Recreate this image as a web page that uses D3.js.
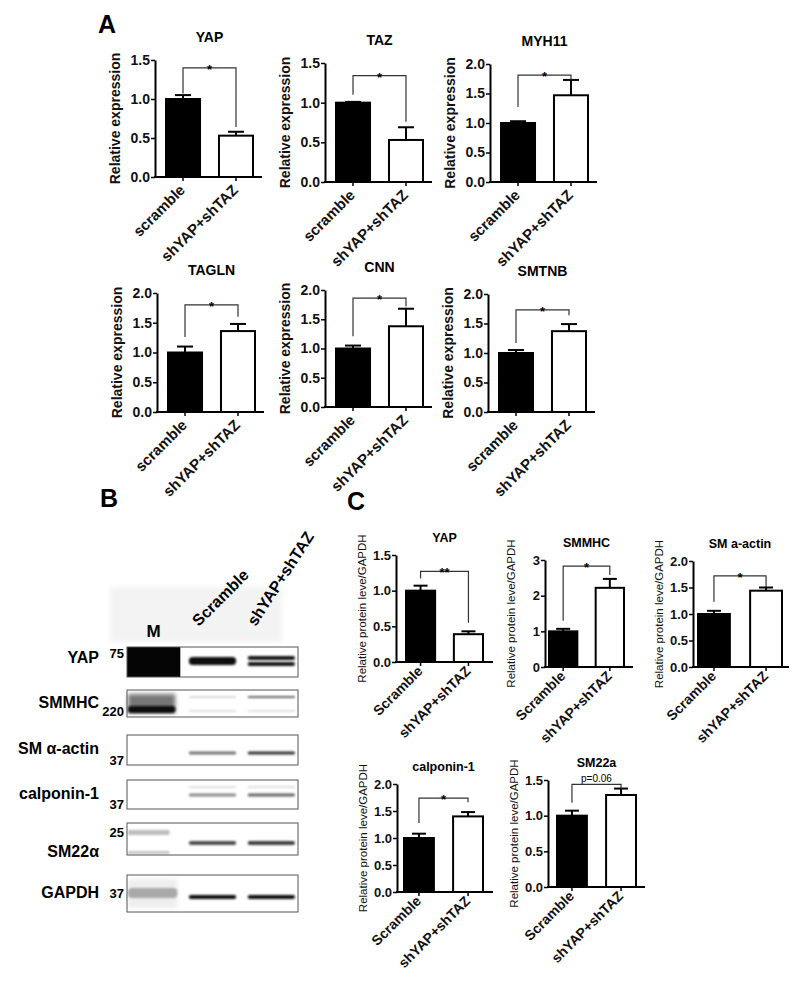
<!DOCTYPE html>
<html>
<head>
<meta charset="utf-8">
<script src="https://cdn.jsdelivr.net/npm/d3@7"></script>
<style>
body { margin: 0; background: #fff; }
svg { display: block; }
</style>
</head>
<body>
<script>
// ---- A : qPCR, relative expression ----
var groupsA = ["scramble", "shYAP+shTAZ"];
var genesA = ["YAP", "TAZ", "MYH11", "TAGLN", "CNN", "SMTNB"];
var scrMeanA = [1.00, 1.00, 1.00, 1.00, 1.00, 1.00];
var scrErrA = [0.05, 0.01, 0.03, 0.10, 0.05, 0.05];
var shMeanA = [0.53, 0.53, 1.47, 1.36, 1.38, 1.37];
var shErrA = [0.05, 0.16, 0.26, 0.12, 0.30, 0.12];
var yMaxA = [1.5, 1.5, 2.0, 2.0, 2.0, 2.0];
var sigA = ["*", "*", "*", "*", "*", "*"];
var brTopA = [1.40, 1.34, 1.81, 1.80, 1.86, 1.73];
var brLeftA = [1.07, 1.10, 1.27, 1.26, 1.21, 1.17];
var brRightA = [0.64, 0.76, 1.73, 1.60, 1.72, 1.64];

// ---- C : protein level / GAPDH ----
var groupsC = ["Scramble", "shYAP+shTAZ"];
var proteinsC = ["YAP", "SMMHC", "SM a-actin", "calponin-1", "SM22a"];
var scrMeanC = [1.00, 1.00, 1.00, 1.00, 1.00];
var scrErrC = [0.07, 0.07, 0.06, 0.08, 0.07];
var shMeanC = [0.39, 2.22, 1.44, 1.40, 1.29];
var shErrC = [0.04, 0.25, 0.06, 0.08, 0.09];
var yMaxC = [1.5, 3, 2.0, 2.0, 1.5];
var yStepC = [0.5, 1, 0.5, 0.5, 0.5];
var sigC = ["**", "*", "*", "*", "p=0.06"];
var brTopC = [1.27, 2.83, 1.72, 1.74, 1.44];
var brLeftC = [1.17, 1.30, 1.23, 1.28, 1.18];
var brRightC = [0.55, 2.58, 1.51, 1.66, 1.38];

// ---- B : western blot ----
var blotRows = ["YAP", "SMMHC", "SM \u03b1-actin", "calponin-1", "SM22\u03b1", "GAPDH"];
var blotMarkers = ["75", "220", "37", "37", "25", "37"];
var lanes = ["M", "Scramble", "shYAP+shTAZ"];
// band darkness 0..1
var bandScr = [0.95, 0.15, 0.55, 0.45, 0.7, 0.95];
var bandSh = [0.9, 0.6, 0.8, 0.6, 0.75, 0.95];

var font = "'Liberation Sans', Arial, Helvetica, sans-serif";

// layout (pixels)
var layoutA = [
	{ x : 155, top : 60, bottom : 177 },
	{ x : 325, top : 63, bottom : 182 },
	{ x : 490, top : 64, bottom : 182 },
	{ x : 157, top : 293, bottom : 412 },
	{ x : 325, top : 290, bottom : 407 },
	{ x : 488, top : 294, bottom : 412 } ];
var layoutC = [
	{ x : 396, top : 555, bottom : 662, bars : [ 9, 88 ], end : 97 },
	{ x : 545, top : 560, bottom : 667, bars : [ 3, 80 ], end : 88 },
	{ x : 693, top : 561, bottom : 667, bars : [ 4, 90 ], end : 96 },
	{ x : 397, top : 784, bottom : 892, bars : [ 6, 87 ], end : 96 },
	{ x : 548, top : 780, bottom : 887, bars : [ 8, 89 ], end : 97 } ];
var blotLayout = [
	{ top : 647, h : 30, by : 661, bh : 8 },
	{ top : 690, h : 27, by : 697, bh : 2 },
	{ top : 735, h : 30, by : 753, bh : 3 },
	{ top : 780, h : 29, by : 795, bh : 3 },
	{ top : 823, h : 32, by : 843, bh : 4 },
	{ top : 875, h : 37, by : 897, bh : 4 } ];

var svg = d3.select("body").append("svg").attr("width", 800)
		.attr("height", 989).style("font-family", font);

var defs = svg.append("defs");
defs.append("filter").attr("id", "blur").attr("x", "-20%").attr("y", "-200%")
		.attr("width", "140%").attr("height", "500%")
		.append("feGaussianBlur").attr("stdDeviation", 1.1);
defs.append("filter").attr("id", "blur2").attr("x", "-20%").attr("y", "-50%")
		.attr("width", "140%").attr("height", "200%")
		.append("feGaussianBlur").attr("stdDeviation", 2);

function letter(t, x, y) {
	svg.append("text").attr("x", x).attr("y", y).attr("font-size", 25)
			.attr("font-weight", "bold").text(t);
}

function barChart(o) {
	var g = svg.append("g").attr("transform", "translate(" + o.x + ",0)");
	var y = d3.scaleLinear().domain([ 0, o.max ]).range([ o.bottom, o.top ]);
	var x = d3.scaleBand().domain(o.groups).range(o.bars).paddingInner(o.pad);
	var bw = x.bandwidth();

	var yAxis = d3.axisLeft(y).tickValues(d3.range(0, o.max + 1e-6, o.step))
			.tickFormat(d3.format(o.fmt)).tickSize(4).tickPadding(1)
			.tickSizeOuter(0);
	var ya = g.append("g").call(yAxis);
	ya.select(".domain").attr("stroke-width", 2);
	ya.selectAll(".tick line").attr("stroke-width", 1.5);
	ya.selectAll(".tick text").attr("font-size", o.tickSize).attr("font-weight", "bold")
			.attr("font-family", font).attr("fill", "#111");

	g.append("line").attr("x1", -1).attr("x2", o.end).attr("y1", y(0))
			.attr("y2", y(0)).attr("stroke", "#000").attr("stroke-width", 2);
	var xa = g.append("g").attr("transform", "translate(0," + y(0) + ")")
			.call(d3.axisBottom(x).tickSize(4).tickSizeOuter(0));
	xa.select(".domain").remove();
	xa.selectAll(".tick line").attr("stroke-width", 1.5);
	xa.selectAll(".tick text").attr("x", 0).attr("y", 0).attr("dy", 0)
			.attr("transform", "translate(" + o.lab[0] + "," + o.lab[1] + ") rotate(-45)")
			.attr("text-anchor", "end").attr("font-size", o.labSize)
			.attr("font-weight", "bold").attr("font-family", font)
			.attr("fill", "#111");

	var rows = o.groups.map(function(k, i) {
		return { k : k, m : o.means[i], e : o.errs[i], fill : i ? "#fff" : "#000" };
	});
	g.selectAll("rect.bar").data(rows).enter().append("rect").attr("class", "bar")
			.attr("x", function(d) { return x(d.k) + 1; })
			.attr("width", bw - 2)
			.attr("y", function(d) { return y(d.m); })
			.attr("height", function(d) { return y(0) - y(d.m); })
			.attr("fill", function(d) { return d.fill; })
			.attr("stroke", "#000").attr("stroke-width", 2);
	rows.forEach(function(d) {
		var cx = x(d.k) + bw / 2;
		g.append("line").attr("x1", cx).attr("x2", cx).attr("y1", y(d.m))
				.attr("y2", y(d.m + d.e)).attr("stroke", "#000").attr("stroke-width", 2);
		g.append("line").attr("x1", cx - o.cap).attr("x2", cx + o.cap)
				.attr("y1", y(d.m + d.e)).attr("y2", y(d.m + d.e))
				.attr("stroke", "#000").attr("stroke-width", 2);
	});

	// significance bracket
	var xl = x(o.groups[0]) + bw / 2, xr = x(o.groups[1]) + bw / 2;
	g.append("path").attr("d", "M" + xl + "," + y(o.br[1]) + "V" + y(o.br[0])
			+ "H" + xr + "V" + y(o.br[2])).attr("fill", "none")
			.attr("stroke", "#333").attr("stroke-width", 1.2);
	var isP = o.sig.indexOf("p") === 0;
	g.append("text").attr("x", (xl + xr) / 2)
			.attr("y", y(o.br[0]) + (isP ? -2 : 6))
			.attr("text-anchor", "middle").attr("font-size", isP ? 10 : 13)
			.attr("font-weight", isP ? "normal" : "bold").text(o.sig);

	// title
	g.append("text").attr("x", (o.bars[0] + o.bars[1]) / 2).attr("y", o.top - o.titleGap)
			.attr("text-anchor", "middle").attr("font-size", o.titleSize)
			.attr("font-weight", "bold").text(o.title);

	// y label
	g.append("text").attr("transform", "translate(" + (-o.ylabOff) + ","
			+ (o.top + o.bottom) / 2 + ") rotate(-90)")
			.attr("text-anchor", "middle").attr("font-size", o.ylabSize)
			.attr("font-weight", o.ylabWeight).attr("fill", "#111").text(o.ylab);
}

letter("A", 98, 33);
genesA.forEach(function(gname, i) {
	var L = layoutA[i];
	barChart({
		x : L.x, top : L.top, bottom : L.bottom, bars : [ 10, 99 ], pad : 0.32,
		end : 107, groups : groupsA, means : [ scrMeanA[i], shMeanA[i] ],
		errs : [ scrErrA[i], shErrA[i] ], max : yMaxA[i], step : 0.5,
		fmt : ".1f", sig : sigA[i], br : [ brTopA[i], brLeftA[i], brRightA[i] ],
		title : gname, titleGap : 18, titleSize : 14, cap : 8, tickSize : 14,
		ylab : "Relative expression", ylabOff : 35, ylabSize : 14,
		ylabWeight : "bold", lab : [ 3, 14 ], labSize : 15
	});
});

letter("C", 347, 510);
proteinsC.forEach(function(pname, i) {
	var L = layoutC[i];
	barChart({
		x : L.x, top : L.top, bottom : L.bottom, bars : L.bars, pad : 0.35,
		end : L.end, groups : groupsC, means : [ scrMeanC[i], shMeanC[i] ],
		errs : [ scrErrC[i], shErrC[i] ], max : yMaxC[i], step : yStepC[i],
		fmt : yStepC[i] < 1 ? ".1f" : "d", sig : sigC[i],
		br : [ brTopC[i], brLeftC[i], brRightC[i] ], title : pname,
		titleGap : 13, titleSize : 12.5, cap : 7, tickSize : 13,
		ylab : "Relative protein leve/GAPDH", ylabOff : 30, ylabSize : 11.5,
		ylabWeight : "normal", lab : [ 3, 10 ], labSize : 14
	});
});

// ---- B : blot ----
letter("B", 100, 507);
var lx = d3.scaleBand().domain(lanes).range([ 126, 299 ]).paddingInner(0.06);

svg.append("rect").attr("x", 110).attr("y", 587).attr("width", 172)
		.attr("height", 55).attr("fill", "#f3f3f3").attr("filter", "url(#blur2)");
svg.append("text").attr("x", lx("M") + lx.bandwidth() / 2).attr("y", 637)
		.attr("text-anchor", "middle").attr("font-size", 17)
		.attr("font-weight", "bold").text("M");
svg.append("text").attr("transform", "translate(" + (lx("Scramble") + 14) + ",627) rotate(-45)")
		.attr("font-size", 16).attr("font-weight", "bold").text("Scramble");
svg.append("text").attr("transform", "translate(" + (lx("shYAP+shTAZ") + 12) + ",627) rotate(-57)")
		.attr("font-size", 16).attr("font-weight", "bold").text("shYAP+shTAZ");

function grey(v) {
	var c = Math.round(255 * (1 - v));
	return d3.rgb(c, c, c).toString();
}

blotRows.forEach(function(name, i) {
	var L = blotLayout[i];
	var g = svg.append("g");
	g.append("rect").attr("x", 127).attr("y", L.top).attr("width", 171)
			.attr("height", L.h).attr("fill", "#fff");

	// marker lane
	var mx = lx("M"), mw = lx.bandwidth();
	if (i === 0) {
		g.append("rect").attr("x", mx + 1).attr("y", L.top).attr("width", mw - 2)
				.attr("height", L.h).attr("fill", "#050505");
	} else if (i === 1) {
		g.append("rect").attr("x", mx + 2).attr("y", L.top + 4).attr("width", mw - 8)
				.attr("height", L.h - 8).attr("fill", "#777").attr("filter", "url(#blur2)");
		g.append("rect").attr("x", mx + 2).attr("y", L.top + 16).attr("width", mw - 8)
				.attr("height", 7).attr("rx", 3).attr("fill", "#0a0a0a")
				.attr("filter", "url(#blur)");
	} else if (i === 4) {
		g.append("rect").attr("x", mx + 2).attr("y", L.top + 7).attr("width", mw - 14)
				.attr("height", 5).attr("fill", "#bdbdbd").attr("filter", "url(#blur)");
		g.append("rect").attr("x", mx + 2).attr("y", L.top + 28).attr("width", mw - 14)
				.attr("height", 3).attr("fill", "#c4c4c4").attr("filter", "url(#blur)");
	} else if (i === 5) {
		g.append("rect").attr("x", mx + 2).attr("y", L.top + 4).attr("width", mw - 6)
				.attr("height", L.h - 8).attr("fill", "#eee").attr("filter", "url(#blur2)");
		g.append("rect").attr("x", mx + 2).attr("y", L.top + 13).attr("width", mw - 6)
				.attr("height", 10).attr("rx", 4).attr("fill", "#a9a9a9")
				.attr("filter", "url(#blur)");
	}

	// sample lanes
	[ [ "Scramble", bandScr[i] ], [ "shYAP+shTAZ", bandSh[i] ] ].forEach(function(b, j) {
		var x0 = lx(b[0]) + 4, w = lx.bandwidth() - 8;
		if (i === 0 && j === 1) {
			g.append("rect").attr("x", x0).attr("y", L.by - 5).attr("width", w)
					.attr("height", 4).attr("rx", 2).attr("fill", grey(b[1]))
					.attr("filter", "url(#blur)");
			g.append("rect").attr("x", x0).attr("y", L.by + 1).attr("width", w)
					.attr("height", 4).attr("rx", 2).attr("fill", grey(b[1]))
					.attr("filter", "url(#blur)");
			return;
		}
		g.append("rect").attr("x", x0).attr("y", L.by - L.bh / 2).attr("width", w)
				.attr("height", L.bh).attr("rx", L.bh / 2).attr("fill", grey(b[1]))
				.attr("filter", "url(#blur)");
		if (i === 1 || i === 3) {
			// faint second band
			var yy = i === 1 ? L.by + 13 : L.by - 9;
			g.append("rect").attr("x", x0).attr("y", yy).attr("width", w)
					.attr("height", 2).attr("fill", grey(0.12)).attr("filter", "url(#blur)");
		}
	});

	g.append("rect").attr("x", 127).attr("y", L.top).attr("width", 171)
			.attr("height", L.h).attr("fill", "none").attr("stroke", "#555")
			.attr("stroke-width", 1);

	svg.append("text").attr("x", 99).attr("y", i === 4 ? L.top + 34 : L.top + L.h / 2 + 1 + (i === 0 ? 0 : 3))
			.attr("text-anchor", "end").attr("font-size", 16)
			.attr("font-weight", "bold").text(name);
	var my = [ L.top + 11, L.top + L.h - 1, L.top + L.h, L.top + L.h, L.top + 14, L.top + 23 ][i];
	svg.append("text").attr("x", 124).attr("y", my).attr("text-anchor", "end")
			.attr("font-size", 13).attr("font-weight", "bold").text(blotMarkers[i]);
});
</script>
</body>
</html>
